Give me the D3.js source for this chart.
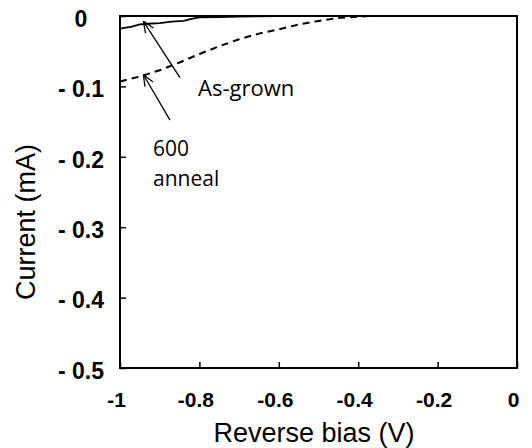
<!DOCTYPE html>
<html><head><meta charset="utf-8">
<script src="https://cdn.jsdelivr.net/npm/d3@7"></script>
<style>body{margin:0;background:#fff}</style>
</head><body>
<script>
// Data
const asGrownX = [-1, -0.97, -0.95, -0.93, -0.9, -0.87, -0.84, -0.82, -0.8, -0.75, -0.7, -0.6, -0.4, -0.2, 0];
const asGrownY = [-0.018, -0.015, -0.012, -0.011, -0.010, -0.008, -0.007, -0.004, -0.002, -0.0015, -0.001, 0, 0, 0, 0];
const annealX = [-1, -0.95, -0.9, -0.85, -0.8, -0.75, -0.7, -0.65, -0.6, -0.55, -0.5, -0.45, -0.4, -0.37, -0.2, 0];
const annealY = [-0.093, -0.086, -0.077, -0.066, -0.054, -0.043, -0.033, -0.025, -0.019, -0.012, -0.007, -0.003, -0.001, 0, 0, 0];
const xTicks = [-1, -0.8, -0.6, -0.4, -0.2, 0];
const xTickLabels = ["-1", "-0.8", "-0.6", "-0.4", "-0.2", "0"];
const yTicks = [0, -0.1, -0.2, -0.3, -0.4, -0.5];
const yTickLabels = ["0", "- 0.1", "- 0.2", "- 0.3", "- 0.4", "- 0.5"];
// annotation: arrow tip (data) and tail (data)
const arrowTips = [[-0.941, -0.0075], [-0.941, -0.0835]];
const arrowTails = [[-0.849, -0.0875], [-0.874, -0.148]];

const W = 532, H = 448;
const svg = d3.select("body").append("svg").attr("width", W).attr("height", H);
const x = d3.scaleLinear().domain([-1, 0]).range([120, 517]);
const y = d3.scaleLinear().domain([0, -0.5]).range([16, 368]);

const line = d3.line().x(d => x(d[0])).y(d => y(d[1]));

svg.append("path").datum(annealX.map((v, i) => [v, annealY[i]]))
  .attr("d", line).attr("fill", "none").attr("stroke", "#000")
  .attr("stroke-width", 2).attr("stroke-dasharray", "7,5");
svg.append("path").datum(asGrownX.map((v, i) => [v, asGrownY[i]]))
  .attr("d", line).attr("fill", "none").attr("stroke", "#000")
  .attr("stroke-width", 1.8);

// frame
svg.append("rect").attr("x", 120).attr("y", 16).attr("width", 397).attr("height", 352)
  .attr("fill", "none").attr("stroke", "#000").attr("stroke-width", 2);

// axes with inward ticks
const xAxis = d3.axisBottom(x).tickValues(xTicks).tickSizeInner(-6).tickSizeOuter(0).tickFormat((d, i) => xTickLabels[i]);
const gx = svg.append("g").attr("transform", "translate(0,368)").call(xAxis);
gx.select(".domain").remove();
gx.selectAll(".tick line").attr("stroke-width", 1.5);
gx.selectAll(".tick text").attr("font-family", "Liberation Sans, Arial, sans-serif")
  .attr("font-weight", "bold").attr("font-size", 21).attr("fill", "#000")
  .attr("dy", null).attr("y", 39).attr("dx", -4);

const yAxis = d3.axisLeft(y).tickValues(yTicks).tickSizeInner(-6).tickSizeOuter(0).tickFormat((d, i) => yTickLabels[i]);
const gy = svg.append("g").attr("transform", "translate(120,0)").call(yAxis);
gy.select(".domain").remove();
gy.selectAll(".tick line").attr("stroke-width", 1.5);
gy.selectAll(".tick text").attr("font-family", "Liberation Sans, Arial, sans-serif")
  .attr("font-weight", "bold").attr("font-size", 23).attr("fill", "#000")
  .attr("text-anchor", "middle").attr("x", -39).attr("dy", "0.45em");

// titles
svg.append("text").attr("x", 314).attr("y", 442).attr("text-anchor", "middle")
  .attr("font-family", "Liberation Sans, Arial, sans-serif").attr("font-size", 27)
  .text("Reverse bias (V)");
svg.append("text").attr("transform", "translate(35,222) rotate(-90)").attr("text-anchor", "middle")
  .attr("font-family", "Liberation Sans, Arial, sans-serif").attr("font-size", 27)
  .text("Current (mA)");

// arrows
arrowTips.forEach((t, i) => {
  const tx = x(t[0]), ty = y(t[1]);
  const sx = x(arrowTails[i][0]), sy = y(arrowTails[i][1]);
  svg.append("line").attr("x1", sx).attr("y1", sy).attr("x2", tx).attr("y2", ty)
    .attr("stroke", "#000").attr("stroke-width", 1.3);
  const ang = Math.atan2(sy - ty, sx - tx);
  const L = 12, a = 0.4;
  [ang + a, ang - a].forEach(b => {
    svg.append("line").attr("x1", tx).attr("y1", ty)
      .attr("x2", tx + L * Math.cos(b)).attr("y2", ty + L * Math.sin(b))
      .attr("stroke", "#000").attr("stroke-width", 1.3);
  });
});

const annFont = "Open Sans, Noto Sans, sans-serif";
svg.append("text").attr("x", 198).attr("y", 96).attr("font-family", annFont).attr("font-size", 22).text("As-grown");
svg.append("text").attr("x", 153).attr("y", 156).attr("font-family", annFont).attr("font-size", 21).text("600");
svg.append("text").attr("x", 153).attr("y", 186).attr("font-family", annFont).attr("font-size", 21).text("anneal");
</script>
</body></html>
